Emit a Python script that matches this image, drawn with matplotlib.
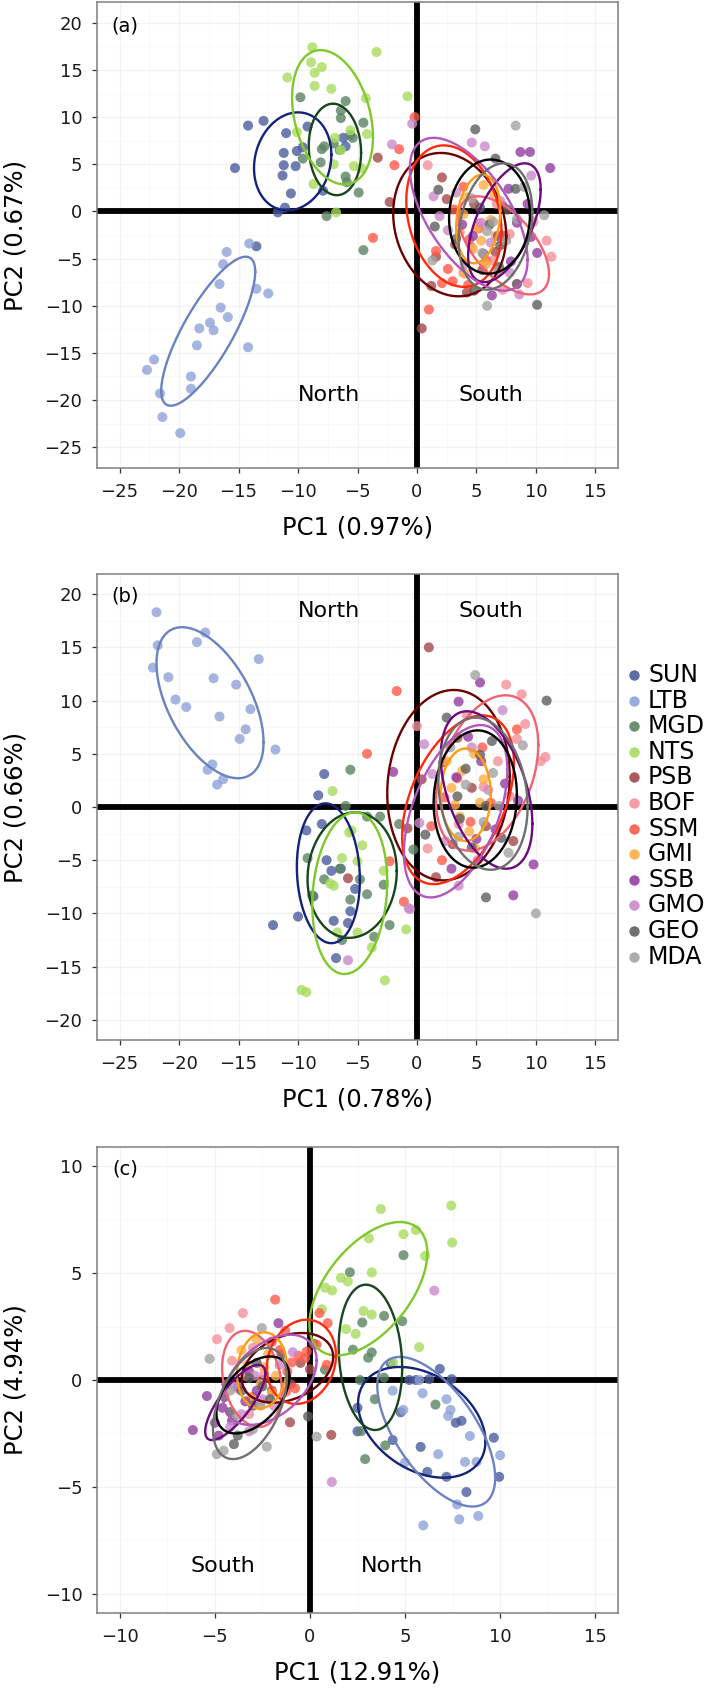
import numpy as np
import matplotlib
matplotlib.use("Agg")
import matplotlib.pyplot as plt
from matplotlib.lines import Line2D
from matplotlib.ticker import MultipleLocator

sites = ["SUN", "LTB", "MGD", "NTS", "PSB", "BOF", "SSM", "GMI", "SSB", "GMO", "GEO", "MDA"]
point_colors = ["#4b5c9e", "#8fa3d8", "#5b8462", "#a9db5e", "#a3494b", "#f4919a",
                "#ff5a49", "#ffae47", "#913fa0", "#c98ac9", "#5f5f5f", "#a3a3a3"]
ellipse_colors = ["#14237a", "#6b82c2", "#17461c", "#7ec82b", "#6b0000", "#f06272",
                  "#ff2a0e", "#ff9b0f", "#6a0a7d", "#b257bb", "#000000", "#6f6f6f"]

# ---- panel (a) ----
a_points = {
    "SUN": [(-14.2, 9.1), (-12.9, 9.6), (-15.3, 4.6), (-11.0, 8.3), (-9.2, 9.0), (-11.2, 6.2), (-10.1, 6.4),
            (-11.2, 4.9), (-10.2, 4.8), (-11.3, 3.8), (-10.6, 1.9), (-11.1, 0.4), (-11.7, -0.1), (-7.9, 2.2),
            (-6.2, 7.8), (-6.0, 6.9), (-13.5, -3.7), (-9.6, 6.8)],
    "LTB": [(-14.1, -3.4), (-16.0, -4.3), (-16.3, -5.6), (-16.6, -7.7), (-13.5, -8.2), (-12.5, -8.7),
            (-16.5, -10.2), (-15.9, -11.2), (-18.3, -12.4), (-17.4, -11.8), (-17.1, -12.6), (-18.5, -14.2),
            (-14.2, -14.4), (-22.1, -15.7), (-22.7, -16.8), (-19.0, -17.5), (-19.0, -18.8), (-21.6, -19.3),
            (-21.4, -21.8), (-19.9, -23.5)],
    "MGD": [(-9.8, 12.1), (-6.0, 11.7), (-6.4, 10.7), (-6.4, 9.9), (-4.5, 9.4), (-7.8, 6.9), (-8.0, 6.6),
            (-9.6, 5.6), (-8.1, 5.2), (-6.0, 3.7), (-5.9, 3.1), (-4.9, 2.0), (-7.6, -0.5), (-4.5, -4.1),
            (-5.6, 8.1), (-7.0, 7.2), (-6.5, 6.5), (-5.4, 7.8)],
    "NTS": [(-8.8, 17.4), (-8.9, 15.8), (-8.6, 14.7), (-8.0, 15.3), (-10.9, 14.2), (-8.6, 13.3), (-7.2, 13.0),
            (-4.3, 12.0), (-3.4, 16.9), (-0.8, 12.2), (-5.6, 8.6), (-6.9, 7.8), (-4.2, 8.2), (-6.4, 6.5),
            (-7.0, 5.0), (-5.3, 4.8), (-4.7, 4.6), (-8.7, 2.9), (-6.8, -0.1), (-10.1, 8.4)],
    "PSB": [(-3.3, 5.7), (-2.3, 1.0), (0.4, -12.4), (1.2, -7.9), (2.5, 1.3), (3.2, -3.5), (5.5, -6.2),
            (6.6, -4.3), (4.2, -8.6), (1.6, -4.8), (2.1, 3.6), (7.4, -2.6), (4.8, 0.8)],
    "BOF": [(0.9, 4.9), (10.9, -3.1), (11.3, -4.8), (9.3, -7.6), (8.4, -7.7), (5.2, -1.3), (6.4, -5.2),
            (7.8, -2.4), (4.6, -3.8), (9.8, -1.1), (6.7, 0.8), (7.2, -8.3), (3.9, -6.5)],
    "SSM": [(-0.2, 10.0), (-1.5, 6.6), (-1.9, 4.9), (1.0, -10.4), (-3.7, -2.8), (2.1, -7.6), (3.0, -7.4),
            (4.4, -3.0), (1.6, -4.2), (3.1, 0.2), (5.2, -1.8), (2.6, -6.1), (5.8, -5.2), (3.9, 2.6), (4.3, -7.8)],
    "GMI": [(4.2, 1.5), (5.6, 2.8), (3.9, -0.3), (5.0, -1.8), (6.2, -0.9), (4.7, -4.0), (5.4, -3.1),
            (4.0, -6.6), (6.4, 1.9), (5.8, -5.6), (3.6, -2.2), (6.6, -2.6)],
    "SSB": [(8.7, 6.3), (9.5, 6.3), (11.2, 4.6), (7.7, 2.4), (10.1, -4.4), (6.3, -8.9), (8.4, -1.2),
            (9.3, 0.8), (6.8, -2.6), (7.9, -5.3), (5.6, -4.5), (4.7, -2.6), (9.6, -2.7), (7.2, 0.6), (3.8, -1.4)],
    "GMO": [(-2.1, 7.1), (-0.4, 9.3), (4.6, 7.3), (5.7, 6.9), (1.4, 1.6), (1.9, -0.5), (9.6, 3.8),
            (3.3, 2.0), (6.2, -3.3), (7.8, -6.5), (5.4, -1.2), (8.6, -8.8), (4.0, -5.6), (2.6, -2.0), (7.0, 1.1)],
    "GEO": [(4.9, 8.7), (6.6, 5.6), (1.8, 2.3), (1.5, -1.6), (8.4, -7.7), (10.1, -9.9), (4.8, -8.4),
            (8.3, 2.4), (6.1, -1.4), (7.0, -3.6), (5.3, 0.4), (7.6, 0.2), (3.3, -2.9), (6.9, -5.9)],
    "MDA": [(8.3, 9.1), (10.7, -0.4), (1.3, -5.2), (5.9, -10.0), (6.4, -1.1), (7.5, -3.1), (5.5, -4.4),
            (8.4, -0.8), (6.8, -6.3), (4.6, 1.4), (9.0, 2.6), (5.9, -2.1)],
}
# ellipse: centre x, centre y, half width, half height, x offset of the top point
a_ellipses = {
    "SUN": (-10.45, 5.3, 3.25, 5.2, 0.45), "LTB": (-17.55, -12.7, 3.95, 7.9, 3.15),
    "MGD": (-6.9, 6.57, 2.2, 4.85, -0.16), "NTS": (-7.1, 9.98, 3.4, 7.12, -1.0),
    "PSB": (2.75, -1.4, 4.75, 7.6, -0.75), "BOF": (7.3, -3.6, 3.8, 5.2, -2.2),
    "SSM": (3.1, -0.5, 4.0, 7.5, -0.85), "GMI": (5.15, -0.8, 1.85, 4.7, 0.35),
    "SSB": (7.35, -1.2, 3.05, 6.3, 1.7), "GMO": (4.35, -0.3, 4.95, 8.1, -2.95),
    "GEO": (6.1, -0.55, 3.4, 6.05, 0.1), "MDA": (6.6, -1.6, 3.1, 6.7, 0.7),
}

# ---- panel (b) ----
b_points = {
    "SUN": [(-8.3, 1.1), (-9.3, -2.2), (-8.0, -1.6), (-7.6, -5.0), (-7.2, -6.0), (-6.4, -5.8), (-5.2, -7.7),
            (-5.6, -9.8), (-10.0, -10.3), (-12.1, -11.1), (-7.0, -10.7), (-5.8, -10.9), (-6.8, -14.2),
            (-8.7, -8.4), (-7.8, 3.1)],
    "LTB": [(-21.9, 18.3), (-21.8, 15.2), (-22.2, 13.1), (-20.9, 12.2), (-20.3, 10.1), (-19.4, 9.4),
            (-18.5, 15.5), (-17.8, 16.4), (-17.1, 12.1), (-16.6, 8.5), (-15.2, 11.5), (-14.9, 6.4),
            (-14.4, 7.3), (-14.0, 9.2), (-13.3, 13.9), (-11.9, 5.4), (-17.2, 4.0), (-17.6, 3.5),
            (-16.8, 2.1), (-16.3, 2.6)],
    "MGD": [(-6.0, 0.1), (-9.2, -4.8), (-7.8, -6.8), (-6.5, -5.8), (-8.8, -8.3), (-5.6, -8.7), (-4.2, -8.2),
            (-4.8, -6.8), (-2.8, -7.3), (-4.2, -0.9), (-3.1, -0.9), (-2.3, -11.1), (-3.6, -12.2),
            (-6.3, -12.5), (-0.3, -4.0), (-1.5, -1.6), (-5.6, 3.5)],
    "NTS": [(-7.1, 1.5), (-7.3, -7.2), (-5.7, -2.4), (-4.6, -3.6), (-6.3, -4.8), (-5.0, -5.1), (-2.8, -6.0),
            (-6.7, -11.8), (-5.0, -11.8), (-3.8, -13.2), (-9.7, -17.2), (-9.3, -17.4), (-2.7, -16.3),
            (-0.9, -11.5), (-5.5, -2.2), (-7.0, -7.4)],
    "PSB": [(1.0, 15.0), (-5.8, -6.7), (1.6, -6.6), (8.1, -3.2), (2.2, 4.2), (4.6, 1.8), (0.4, 2.6),
            (5.8, -1.8), (3.4, 6.5), (-0.8, -2.0), (3.0, -3.5)],
    "BOF": [(7.5, 11.5), (8.8, 10.6), (9.1, 7.8), (10.8, 4.7), (10.4, 4.3), (0.0, 7.6), (0.9, -3.9),
            (6.8, 4.3), (4.2, 8.6), (5.6, 1.9), (7.8, 1.0), (3.5, -1.6), (8.4, 6.4)],
    "SSM": [(-1.7, 10.9), (-4.2, 5.0), (8.4, 7.3), (5.5, 5.6), (4.5, -1.4), (2.1, -5.0), (-1.1, -8.9),
            (2.3, 0.9), (-2.3, -5.1), (3.4, 2.7), (6.2, 0.4), (1.2, -1.8)],
    "GMI": [(3.8, 3.4), (4.8, 5.0), (2.9, 1.8), (5.3, 0.4), (3.6, -0.9), (4.4, -2.3), (5.6, 2.6),
            (2.5, 4.3), (4.9, -3.9), (3.2, 0.2)],
    "SSB": [(5.3, 11.7), (9.8, -5.4), (8.1, -8.3), (3.5, 9.9), (-2.0, 3.3), (5.4, 4.3), (3.3, 2.8),
            (7.4, 2.2), (6.6, -2.1), (4.3, 6.6), (8.5, 0.6), (5.0, -3.0), (2.9, -5.8)],
    "GMO": [(-5.8, -14.4), (-0.6, -9.6), (7.2, 9.1), (0.2, -1.5), (-0.7, -9.5), (3.5, -7.4), (1.3, 3.1),
            (4.6, 5.6), (2.4, -3.2), (6.0, 1.6), (5.1, -5.0), (0.6, 5.9)],
    "GEO": [(10.9, 10.0), (5.8, -8.5), (0.7, -2.6), (2.5, 8.4), (6.3, 6.2), (4.1, 3.6), (3.4, 1.0),
            (5.8, 0.1), (7.1, -2.9), (4.6, -3.8), (3.6, -1.1), (5.3, 4.9)],
    "MDA": [(4.9, 12.4), (10.0, -10.0), (8.9, 5.8), (4.1, 2.1), (6.4, 3.2), (5.6, -1.4), (7.7, -4.3),
            (2.8, 5.6), (6.9, 0.1), (3.5, -2.8)],
}
b_ellipses = {
    "SUN": (-7.45, -6.23, 2.65, 6.57, -0.25), "LTB": (-17.4, 9.8, 4.5, 7.1, -2.35),
    "MGD": (-5.45, -6.4, 3.75, 5.9, 0.25), "NTS": (-5.65, -8.1, 3.15, 7.6, 0.45),
    "PSB": (2.65, 2.05, 5.15, 8.95, 0.45), "BOF": (5.9, 3.2, 4.3, 7.3, 1.55),
    "SSM": (3.45, 0.68, 4.7, 7.93, 2.05), "GMI": (4.1, 1.15, 2.1, 4.35, 0.0),
    "SSB": (5.85, 1.6, 3.85, 7.4, -1.65), "GMO": (3.25, -0.4, 4.35, 8.1, 2.1),
    "GEO": (4.9, 0.75, 3.5, 6.45, 0.2), "MDA": (5.55, 1.25, 3.75, 7.15, -0.65),
}

# ---- panel (c) ----
c_points = {
    "SUN": [(6.83, 0.52), (7.45, 0.04), (6.27, 0.04), (5.57, 0.0), (5.22, 0.0), (7.67, -2.0), (7.97, -1.91),
            (5.82, -3.13), (6.17, -4.3), (7.18, -4.53), (8.23, -5.24), (9.67, -2.7), (9.95, -4.53),
            (4.77, -1.51), (4.35, -2.81), (2.5, -1.3), (2.5, -2.4), (4.25, 0.78)],
    "LTB": [(4.35, -0.5), (5.92, -0.62), (7.18, -0.9), (7.39, -1.4), (7.27, -1.68), (8.41, -2.62),
            (6.74, -3.47), (8.76, -3.83), (8.15, -3.83), (10.0, -3.52), (7.74, -5.82), (7.85, -6.52),
            (8.85, -6.36), (5.96, -6.8), (4.91, -1.4), (5.0, -3.86), (5.75, 0.0)],
    "MGD": [(2.1, 5.04), (4.92, 5.84), (2.75, 2.69), (3.9, 3.0), (4.85, 2.75), (2.26, 1.42), (3.25, 1.29),
            (3.06, 1.04), (2.63, 0.0), (3.89, 0.11), (0.79, 0.48), (3.41, -0.9), (6.6, -1.15), (2.7, -2.39),
            (3.96, -3.06), (2.9, -3.7)],
    "NTS": [(3.73, 8.0), (7.43, 8.16), (7.48, 6.43), (4.92, 6.82), (5.57, 7.02), (3.1, 6.63), (6.05, 5.8),
            (3.25, 5.03), (1.63, 4.78), (0.8, 4.32), (1.16, 4.19), (1.99, 4.61), (2.82, 3.23), (3.25, 3.06),
            (1.9, 2.38), (2.4, 2.16), (5.74, 1.54), (0.63, 3.31), (4.37, 0.82)],
    "PSB": [(1.12, -2.57), (-1.05, -1.98), (-2.5, 0.0), (-1.5, 1.2), (-0.5, 0.8), (0.2, 1.7), (-2.0, -0.5),
            (-1.0, -0.2), (0.0, 0.5), (-3.0, -0.8)],
    "BOF": [(-3.53, 3.13), (-4.23, 2.43), (-4.89, 1.91), (-3.0, 1.5), (-2.4, 0.3), (-3.8, -0.4), (-3.2, -1.6),
            (-2.6, -1.0), (-4.1, 0.9), (-3.4, 0.2)],
    "SSM": [(-1.83, 3.76), (0.5, 3.13), (0.93, 2.66), (0.35, 1.65), (0.88, 0.71), (-0.26, 1.02), (-0.61, 1.13),
            (-0.96, 0.82), (-1.19, 0.4), (-1.57, 1.41), (-0.78, -0.39), (-1.25, -0.54), (-0.17, 1.33),
            (-2.0, 1.8), (-1.3, 2.3)],
    "GMI": [(-2.8, 1.9), (-2.2, 1.2), (-3.3, 0.7), (-1.8, 0.2), (-2.6, -0.2), (-3.1, -0.8), (-2.0, -0.6),
            (-3.6, 1.4), (-2.4, 0.6)],
    "SSB": [(-6.16, -2.34), (-5.42, -0.75), (-1.66, 2.66), (-4.6, -1.3), (-3.8, -0.3), (-3.2, 0.4),
            (-4.1, -1.9), (-4.8, -2.6), (-3.4, -1.0), (-2.8, -0.5), (-4.4, -0.2), (-5.0, -2.0)],
    "GMO": [(1.15, -4.77), (6.54, 4.18), (-3.6, -1.6), (-2.5, -0.9), (-1.6, 0.7), (-4.2, -2.2), (-2.9, 0.2),
            (-0.9, 1.3), (-3.2, -2.4), (-1.9, -1.2), (-4.0, -0.3)],
    "GEO": [(-3.2, 0.1), (-2.5, -0.3), (-4.2, -1.5), (-3.8, -2.6), (-2.1, -0.9), (-3.0, -1.2), (-4.5, -0.8),
            (-2.8, 0.8), (-3.6, -0.5), (-0.1, -1.7), (-4.0, -3.0)],
    "MDA": [(-5.28, 0.99), (-4.9, -3.47), (-4.54, -3.31), (-2.27, -3.12), (0.35, -2.65), (-2.53, 2.43),
            (-3.9, -1.8), (-3.0, -2.3), (-4.2, -0.5), (-2.6, -1.2)],
}
c_ellipses = {
    "SUN": (5.88, -1.98, 3.35, 2.59, -1.15), "LTB": (6.64, -2.42, 3.1, 3.5, -1.91),
    "MGD": (3.18, 1.06, 1.67, 3.4, -0.24), "NTS": (3.07, 4.27, 3.1, 3.12, 1.66),
    "PSB": (-1.18, 0.57, 2.4, 1.63, 0.75), "BOF": (-3.05, 0.05, 1.57, 2.25, -0.36),
    "SSM": (-0.45, 0.85, 1.82, 1.97, 0.28), "GMI": (-2.53, 0.45, 1.31, 1.78, 0.12),
    "SSB": (-3.93, -1.05, 1.58, 1.76, 1.22), "GMO": (-2.1, 0.01, 2.45, 2.11, 1.05),
    "GEO": (-3.0, -0.7, 1.92, 1.8, 0.91), "MDA": (-3.16, -1.1, 1.94, 2.6, 0.89),
}

panels = [
    dict(tag="(a)", pts=a_points, ell=a_ellipses, xlab="PC1 (0.97%)", ylab="PC2 (0.67%)",
         xlim=(-26.9, 16.9), ylim=(-27.2, 22.2), tagpos=(-25.7, 19.7),
         north=(-7.4, -19.5), south=(6.2, -19.5), bottom=1 - 468 / 1693),
    dict(tag="(b)", pts=b_points, ell=b_ellipses, xlab="PC1 (0.78%)", ylab="PC2 (0.66%)",
         xlim=(-26.9, 16.9), ylim=(-21.9, 21.9), tagpos=(-25.7, 19.8),
         north=(-7.4, 18.4), south=(6.2, 18.4), bottom=1 - 1040 / 1693),
    dict(tag="(c)", pts=c_points, ell=c_ellipses, xlab="PC1 (12.91%)", ylab="PC2 (4.94%)",
         xlim=(-11.2, 16.2), ylim=(-10.9, 10.9), tagpos=(-10.4, 9.88),
         north=(4.3, -8.7), south=(-4.58, -8.7), bottom=1 - 1613 / 1693),
]


def ellipse_path(cx, cy, hx, hy, dtop):
    cov = np.array([[hx ** 2, dtop * hy], [dtop * hy, hy ** 2]])
    L = np.linalg.cholesky(cov)
    t = np.linspace(0, 2 * np.pi, 200)
    xy = L @ np.vstack([np.cos(t), np.sin(t)])
    return cx + xy[0], cy + xy[1]


fig = plt.figure(figsize=(7.09, 16.93), dpi=100)
W, H = 709, 1693

for p in panels:
    ax = fig.add_axes([97 / W, p["bottom"], 521 / W, 466 / H])
    ax.set_xlim(*p["xlim"])
    ax.set_ylim(*p["ylim"])
    ax.xaxis.set_major_locator(MultipleLocator(5))
    ax.yaxis.set_major_locator(MultipleLocator(5))
    ax.xaxis.set_minor_locator(MultipleLocator(2.5))
    ax.yaxis.set_minor_locator(MultipleLocator(2.5))
    ax.grid(which="major", color="#f2f2f2", lw=0.9, zorder=0)
    ax.grid(which="minor", color="#f8f8f8", lw=0.6, zorder=0)
    ax.set_axisbelow(True)
    ax.tick_params(which="minor", length=0)
    ax.tick_params(which="major", direction="out", length=3.5, width=0.9, color="#333333",
                   labelsize=13, pad=7, labelcolor="#1a1a1a")
    for s in ax.spines.values():
        s.set_color("#7f7f7f")
        s.set_linewidth(1.1)

    ax.axhline(0, color="black", lw=4.2, zorder=1)
    ax.axvline(0, color="black", lw=4.2, zorder=1)

    for site, pc in zip(sites, point_colors):
        xy = np.array(p["pts"][site])
        ax.scatter(xy[:, 0], xy[:, 1], s=52, color=pc, alpha=0.8, edgecolors="none", zorder=2)
    for site, ec in zip(sites, ellipse_colors):
        ex, ey = ellipse_path(*p["ell"][site])
        ax.plot(ex, ey, color=ec, lw=1.7, zorder=3)

    ax.text(p["tagpos"][0], p["tagpos"][1], p["tag"], fontsize=14, ha="left", va="center")
    ax.text(p["north"][0], p["north"][1], "North", fontsize=16, ha="center", va="center")
    ax.text(p["south"][0], p["south"][1], "South", fontsize=16, ha="center", va="center")
    ax.set_xlabel(p["xlab"], fontsize=17.5, labelpad=11)
    ax.set_ylabel(p["ylab"], fontsize=17.5, labelpad=12)

# legend at the right of panel (b)
for i, (site, pc) in enumerate(zip(sites, point_colors)):
    yy = 1 - (675 + 25.6 * i) / H
    fig.add_artist(Line2D([634 / W], [yy], transform=fig.transFigure, marker="o", ms=7.5,
                          color=pc, alpha=0.9, markeredgewidth=0, linestyle="none"))
    fig.text(648 / W, yy, site, fontsize=17, va="center", ha="left")

fig.savefig("out.png", dpi=100)
